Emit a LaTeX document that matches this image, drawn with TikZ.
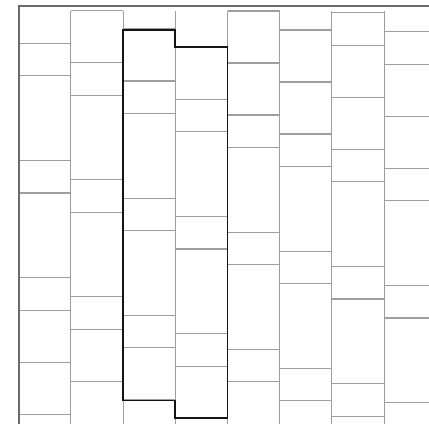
\documentclass[tikz,border=0pt]{standalone}
\usetikzlibrary{calc}
\definecolor{lineg}{gray}{0.62}
\definecolor{frameg}{gray}{0.42}
\definecolor{outk}{gray}{0.08}
\tikzset{
  brickline/.style={draw=lineg, line width=1.1pt},
  frameline/.style={draw=frameg, line width=2.2pt},
  outline/.style={draw=outk, line width=1.9pt, line join=miter}
}
\begin{document}
\begin{tikzpicture}[x=1pt,y=-1pt]
\useasboundingbox[fill=white] (0,0) rectangle (429,424);
\begin{scope}
  \clip (18.7,10.8) rectangle (429,424);
  % column edges
  \foreach \i in {1,...,8} {
    \pgfmathsetmacro\xx{18.7+52.2*\i}
    \draw[brickline] (\xx,10.8) -- (\xx,424);
  }
  % brick cuts
  \foreach \i/\a in {0/43.3,1/62.7,2/81,3/99.3,4/115,5/134,6/149.3,7/168.3} {
    \pgfmathsetmacro\xl{18.7+52.2*\i}
    \foreach \o in {0,32.6,117.1,149.7,234.2,266.8,318.8} {
      \foreach \k in {-1,0,1} {
        \pgfmathsetmacro\yy{\a+\o+\k*370.8}
        \draw[brickline] (\xl,\yy) -- ++(52.2,0);
      }
    }
  }
\end{scope}
% frame
\draw[frameline] (17.6,6) -- (429,6);
\draw[frameline] (18.7,5) -- (18.7,424);
% highlighted outline
\coordinate (p1) at (123.1,30.3);
\coordinate (p2) at (175.3,30.3);
\coordinate (p3) at (175.3,47.3);
\coordinate (p4) at (227.5,47.3);
\coordinate (p5) at (227.5,417.6);
\coordinate (p6) at (175.3,417.6);
\coordinate (p7) at (175.3,400.5);
\coordinate (p8) at (123.1,400.5);
\draw[outline] (p1) -- (p2) -- (p3) -- (p4) -- (p5) -- (p6) -- (p7) -- (p8) -- cycle;
\end{tikzpicture}
\end{document}
